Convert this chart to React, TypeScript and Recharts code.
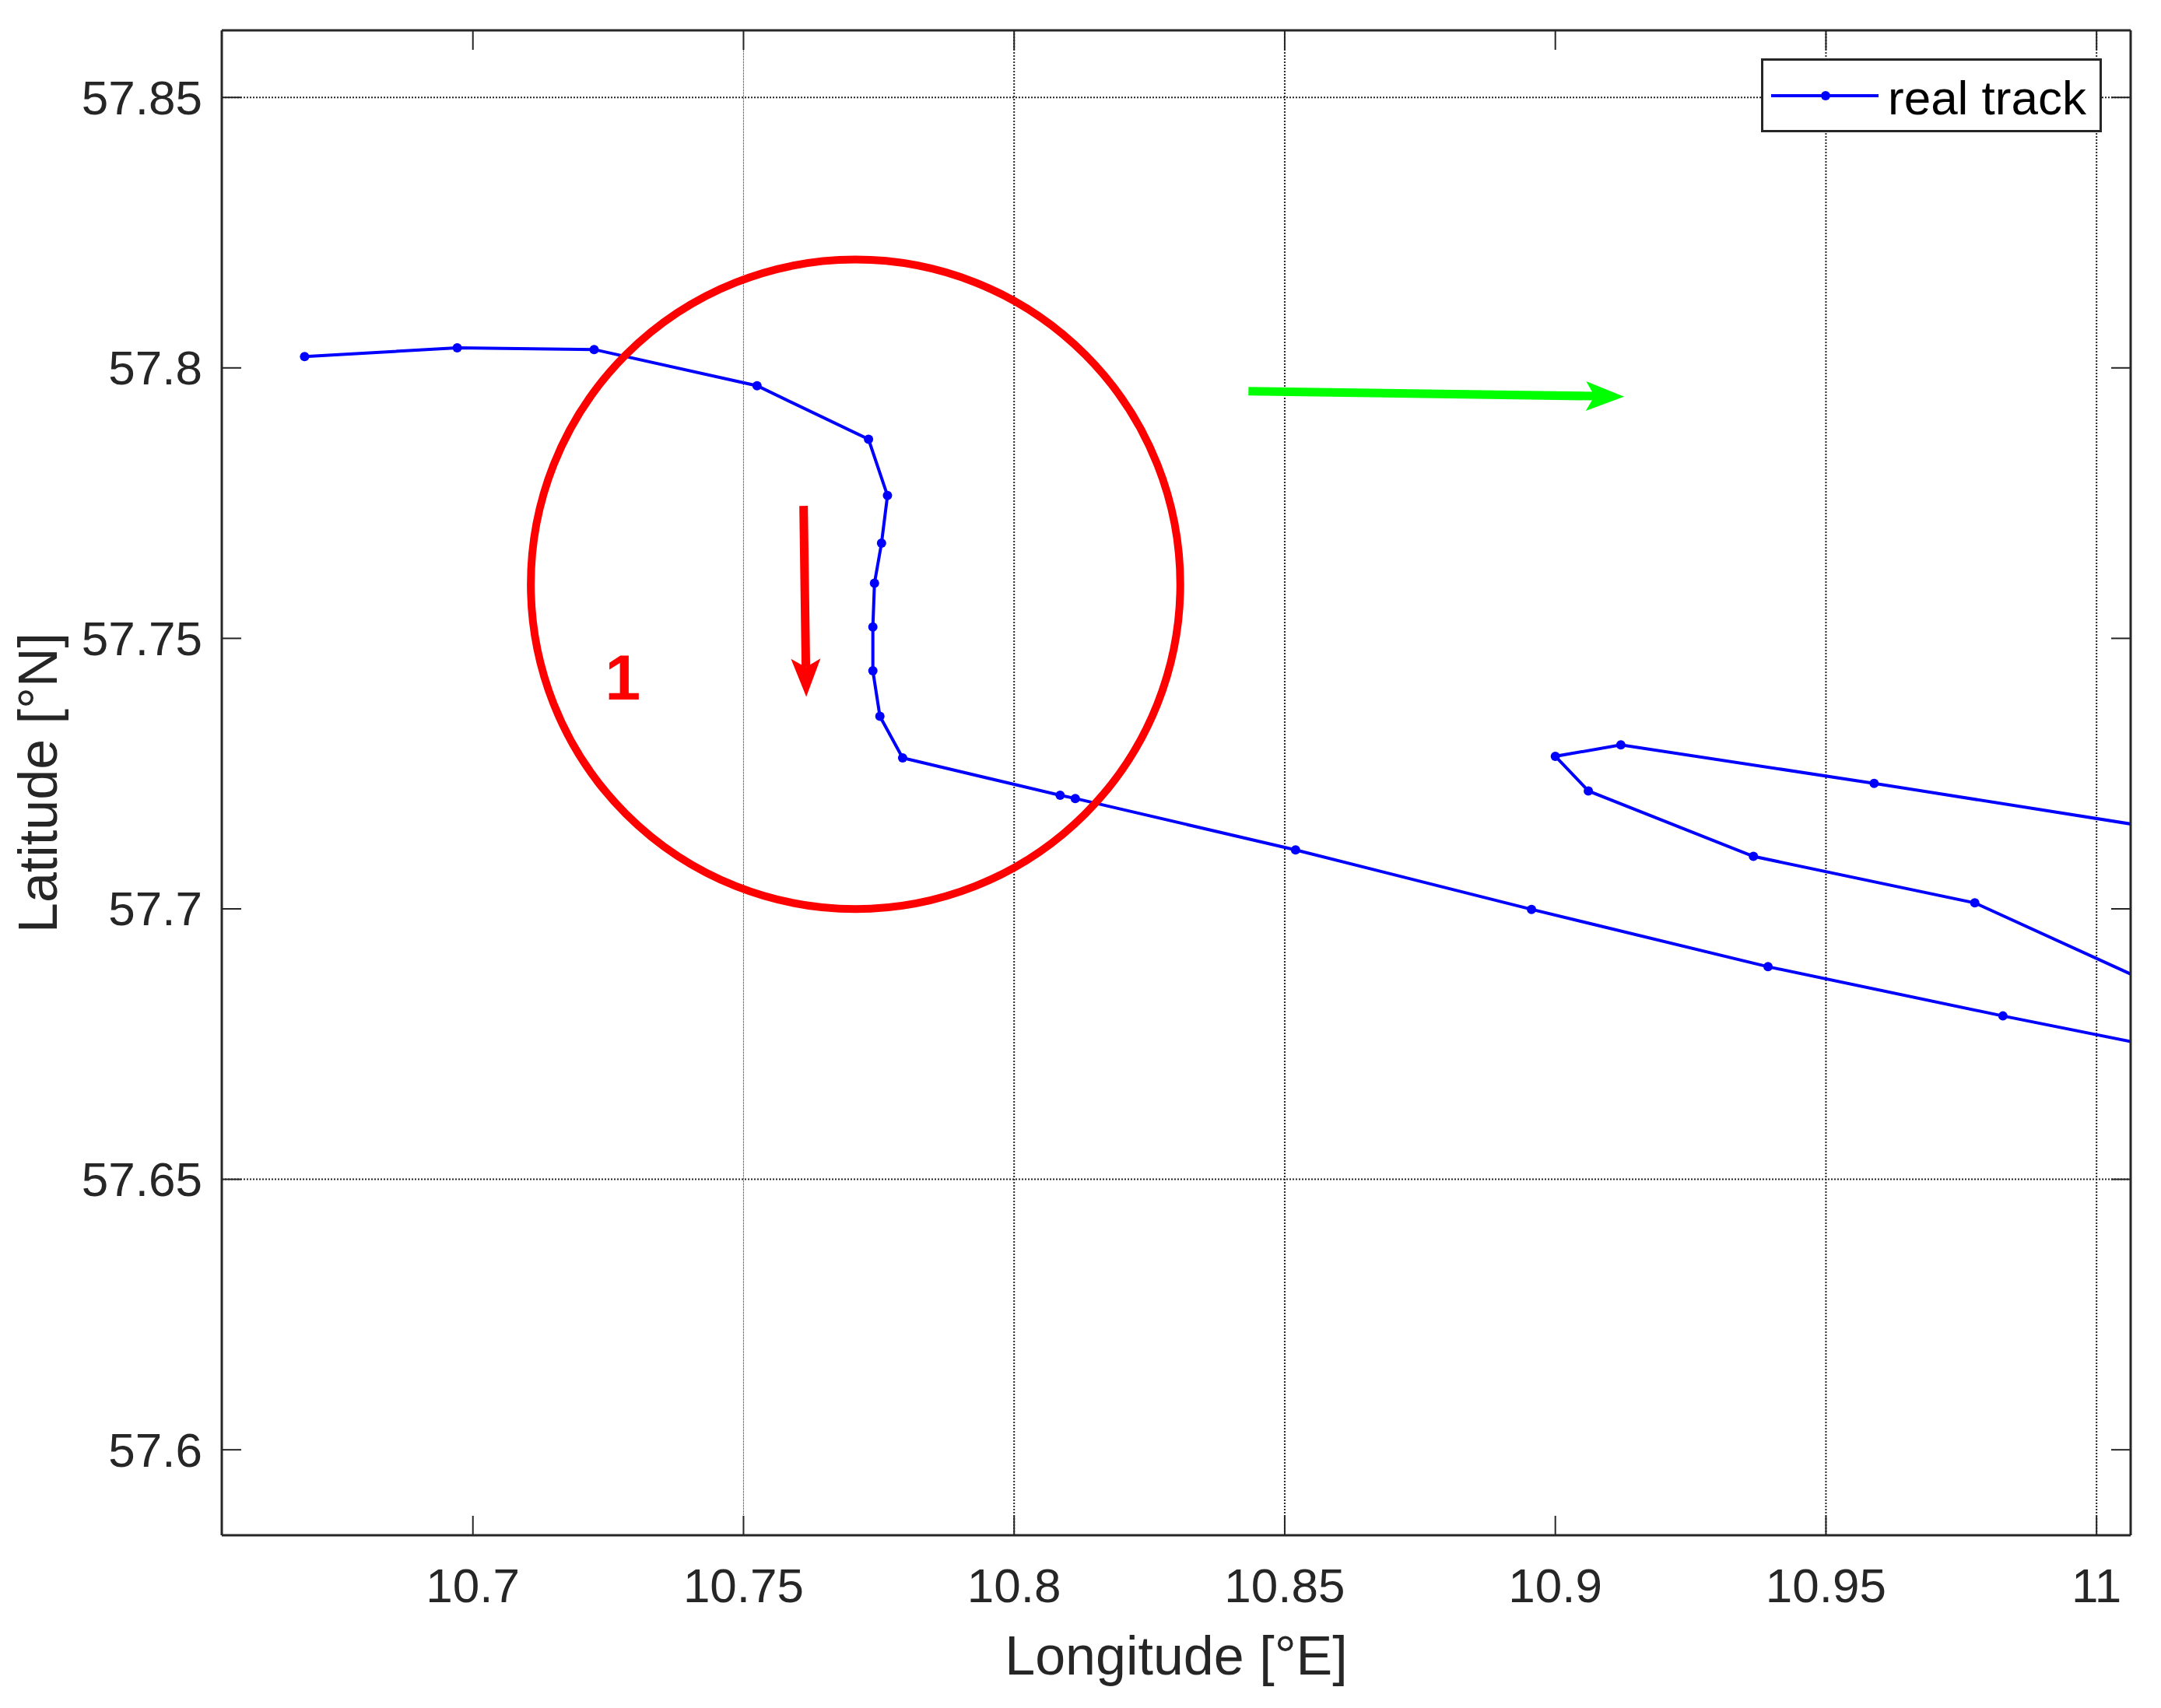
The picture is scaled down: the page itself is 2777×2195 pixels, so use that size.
import React from 'react';
import { LineChart, Line, XAxis, YAxis, ReferenceLine, ReferenceDot, Legend } from 'recharts';

// ship track (deg E / deg N), points past the right edge get clipped
const trackLon = [
  10.6689, 10.6971, 10.7224, 10.7525, 10.7731, 10.7766, 10.7755, 10.7742, 10.7739, 10.7739,
  10.7752, 10.7794, 10.8085, 10.8113, 10.8520, 10.8956, 10.9393, 10.9827, 11.0296, 11.0296,
  10.9775, 10.9366, 10.9061, 10.9000, 10.9121, 10.9589, 11.0296,
];
const trackLat = [
  57.8021, 57.8037, 57.8034, 57.7967, 57.7868, 57.7764, 57.7676, 57.7602, 57.7521, 57.7440,
  57.7356, 57.7279, 57.7210, 57.7204, 57.7109, 57.6999, 57.6893, 57.6802, 57.6708, 57.6773,
  57.7011, 57.7097, 57.7218, 57.7282, 57.7303, 57.7232, 57.7120,
];

const xTicks = [10.7, 10.75, 10.8, 10.85, 10.9, 10.95, 11];
const xTickLabels = ['10.7', '10.75', '10.8', '10.85', '10.9', '10.95', '11'];
const yTicks = [57.6, 57.65, 57.7, 57.75, 57.8, 57.85];
const yTickLabels = ['57.6', '57.65', '57.7', '57.75', '57.8', '57.85'];

// only these grid lines survive in the picture
const faintGridLon = [10.75];
const gridLon = [10.8, 10.85, 10.95, 11];
const gridLat = [57.85, 57.65];

// annotations
const circleCenter = { lon: 10.7707, lat: 57.76 };
const circleRadiusDeg = 0.06;
const redArrow = [{ lon: 10.7611, lat: 57.7745 }, { lon: 10.7616, lat: 57.7392 }];
const greenArrow = [{ lon: 10.8433, lat: 57.7957 }, { lon: 10.9127, lat: 57.7947 }];
const zoneLabel = { text: '1', lon: 10.7277, lat: 57.7387 };

const data = trackLon.map((lon, i) => ({ lon, lat: trackLat[i] }));

const W = 2777;
const H = 2195;
const X_DOMAIN: [number, number] = [10.6536, 11.0063];
const Y_DOMAIN: [number, number] = [57.5842, 57.8624];
const PLOT_W = 2453;
const PX_PER_DEG = PLOT_W / (X_DOMAIN[1] - X_DOMAIN[0]);

const FONT = "'Liberation Sans', Arial, Helvetica, sans-serif";
const AXIS = '#262626';
const TICK_LEN = 25;

const fmt = (v: number, ticks: number[], labels: string[]) => {
  const i = ticks.findIndex((t) => Math.abs(t - v) < 1e-9);
  return i >= 0 ? labels[i] : String(v);
};

const BottomTick = ({ x, y, payload }: any) => (
  <g>
    <line x1={x} y1={y} x2={x} y2={y - TICK_LEN} stroke={AXIS} strokeWidth={2} />
    <text x={x} y={y + 86} textAnchor="middle" fontSize={62} fontFamily={FONT} fill={AXIS}>
      {fmt(payload.value, xTicks, xTickLabels)}
    </text>
  </g>
);

const TopTick = ({ x, y }: any) => (
  <line x1={x} y1={y} x2={x} y2={y + TICK_LEN} stroke={AXIS} strokeWidth={2} />
);

const LeftTick = ({ x, y, payload }: any) => (
  <g>
    <line x1={x} y1={y} x2={x + TICK_LEN} y2={y} stroke={AXIS} strokeWidth={2} />
    <text x={x - 25} y={y} textAnchor="end" dominantBaseline="central" fontSize={62} fontFamily={FONT} fill={AXIS}>
      {fmt(payload.value, yTicks, yTickLabels)}
    </text>
  </g>
);

const RightTick = ({ x, y }: any) => (
  <line x1={x} y1={y} x2={x - TICK_LEN} y2={y} stroke={AXIS} strokeWidth={2} />
);

const arrowShape = (color: string) => (props: any) => {
  const { x1, y1, x2, y2 } = props;
  const dx = x2 - x1;
  const dy = y2 - y1;
  const len = Math.hypot(dx, dy) || 1;
  const ux = dx / len;
  const uy = dy / len;
  const px = -uy;
  const py = ux;
  const headLen = 49;
  const notch = 38;
  const half = 19;
  const bx = x2 - ux * headLen;
  const by = y2 - uy * headLen;
  const nx = x2 - ux * notch;
  const ny = y2 - uy * notch;
  return (
    <g>
      <line x1={x1} y1={y1} x2={nx} y2={ny} stroke={color} strokeWidth={11} />
      <polygon
        points={`${x2},${y2} ${bx + px * half},${by + py * half} ${nx},${ny} ${bx - px * half},${by - py * half}`}
        fill={color}
      />
    </g>
  );
};

const renderLegend = (props: any) => {
  const name = props?.payload?.[0]?.value ?? 'real track';
  return (
    <svg width={438} height={95} style={{ display: 'block' }}>
      <rect x={1.5} y={1.5} width={435} height={92} fill="#ffffff" stroke={AXIS} strokeWidth={3} />
      <line x1={13} y1={48} x2={151} y2={48} stroke="#0000ff" strokeWidth={4} />
      <circle cx={83} cy={48} r={6} fill="#0000ff" />
      <text x={163} y={72} fontSize={62} fontFamily={FONT} fill="#000000">
        {name}
      </text>
    </svg>
  );
};

const App: React.FC = () => {
  return (
    <div style={{ position: 'absolute', left: 0, top: 0, width: W, height: H, background: '#ffffff' }}>
      <LineChart width={W} height={H} data={data} margin={{ top: 38, right: 38, bottom: 0, left: 0 }}>
        <XAxis
          xAxisId="bottom"
          dataKey="lon"
          type="number"
          domain={X_DOMAIN}
          allowDataOverflow
          ticks={xTicks}
          interval={0}
          height={222}
          tickSize={0}
          tickMargin={0}
          tickLine={false}
          tick={<BottomTick />}
          axisLine={{ stroke: AXIS, strokeWidth: 3 }}
          label={({ viewBox }: any) => (
            <text
              x={viewBox.x + viewBox.width / 2}
              y={viewBox.y + 179}
              textAnchor="middle"
              fontSize={70}
              fontFamily={FONT}
              fill={AXIS}
            >
              Longitude [°E]
            </text>
          )}
        />
        <XAxis
          xAxisId="top"
          orientation="top"
          dataKey="lon"
          type="number"
          domain={X_DOMAIN}
          allowDataOverflow
          ticks={xTicks}
          interval={0}
          height={1}
          tickSize={0}
          tickMargin={0}
          tickLine={false}
          tick={<TopTick />}
          axisLine={{ stroke: AXIS, strokeWidth: 3 }}
        />
        <YAxis
          yAxisId="left"
          dataKey="lat"
          type="number"
          domain={Y_DOMAIN}
          allowDataOverflow
          ticks={yTicks}
          interval={0}
          width={285}
          tickSize={0}
          tickMargin={0}
          tickLine={false}
          tick={<LeftTick />}
          axisLine={{ stroke: AXIS, strokeWidth: 3 }}
          label={({ viewBox }: any) => {
            const cx = viewBox.x + 73;
            const cy = viewBox.y + viewBox.height / 2;
            return (
              <text
                x={cx}
                y={cy}
                transform={`rotate(-90, ${cx}, ${cy})`}
                textAnchor="middle"
                fontSize={70}
                fontFamily={FONT}
                fill={AXIS}
              >
                Latitude [°N]
              </text>
            );
          }}
        />
        <YAxis
          yAxisId="right"
          orientation="right"
          dataKey="lat"
          type="number"
          domain={Y_DOMAIN}
          allowDataOverflow
          ticks={yTicks}
          interval={0}
          width={1}
          tickSize={0}
          tickMargin={0}
          tickLine={false}
          tick={<RightTick />}
          axisLine={{ stroke: AXIS, strokeWidth: 3 }}
        />

        {faintGridLon.map((v) => (
          <ReferenceLine key={`fg-${v}`} xAxisId="bottom" yAxisId="left" x={v} stroke={AXIS} strokeWidth={1} strokeDasharray="1 1" />
        ))}
        {gridLon.map((v) => (
          <ReferenceLine key={`gx-${v}`} xAxisId="bottom" yAxisId="left" x={v} stroke={AXIS} strokeWidth={2} strokeDasharray="2 2" />
        ))}
        {gridLat.map((v) => (
          <ReferenceLine key={`gy-${v}`} xAxisId="bottom" yAxisId="left" y={v} stroke={AXIS} strokeWidth={2} strokeDasharray="2 2" />
        ))}

        <Line
          xAxisId="bottom"
          yAxisId="left"
          name="real track"
          dataKey="lat"
          type="linear"
          stroke="#0000ff"
          strokeWidth={4}
          dot={{ r: 6, fill: '#0000ff', stroke: 'none' }}
          activeDot={false}
          isAnimationActive={false}
        />

        <ReferenceDot
          xAxisId="bottom"
          yAxisId="left"
          x={circleCenter.lon}
          y={circleCenter.lat}
          r={circleRadiusDeg * PX_PER_DEG}
          fill="none"
          stroke="#ff0000"
          strokeWidth={10}
        />
        <ReferenceLine
          xAxisId="bottom"
          yAxisId="left"
          segment={[
            { x: redArrow[0].lon, y: redArrow[0].lat },
            { x: redArrow[1].lon, y: redArrow[1].lat },
          ]}
          shape={arrowShape('#ff0000')}
        />
        <ReferenceLine
          xAxisId="bottom"
          yAxisId="left"
          segment={[
            { x: greenArrow[0].lon, y: greenArrow[0].lat },
            { x: greenArrow[1].lon, y: greenArrow[1].lat },
          ]}
          shape={arrowShape('#00ff00')}
        />
        <ReferenceDot
          xAxisId="bottom"
          yAxisId="left"
          x={zoneLabel.lon}
          y={zoneLabel.lat}
          r={0}
          shape={(p: any) => (
            <text x={p.cx} y={p.cy} textAnchor="middle" fontSize={82} fontWeight="bold" fontFamily={FONT} fill="#ff0000">
              {zoneLabel.text}
            </text>
          )}
        />

        <Legend
          layout="horizontal"
          verticalAlign="middle"
          align="center"
          content={renderLegend}
          wrapperStyle={{ left: 2263, top: 75, width: 438, height: 95, margin: 0, padding: 0 }}
        />
      </LineChart>
    </div>
  );
};

export default App;
